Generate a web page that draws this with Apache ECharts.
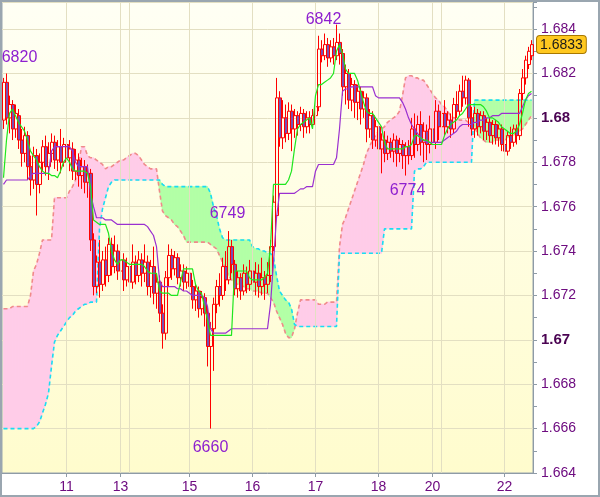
<!DOCTYPE html>
<html>
<head>
<meta charset="utf-8">
<script src="https://cdn.jsdelivr.net/npm/echarts@6/dist/echarts.min.js"></script>
<style>
html,body{margin:0;padding:0;background:#ffffff;}
#chart{width:600px;height:497px;}
</style>
</head>
<body>
<div id="chart"></div>
<script>
// ---- DATA (prices in pips: 6820 means 1.6820) ----
const opens = [6799,6816,6800,6806,6795,6801,6790,6784,6792,6778,
6772,6783,6770,6780,6787,6778,6784,6789,6781,6787,
6780,6788,6782,6786,6776,6781,6774,6778,6771,6775,
6745,6724,6735,6725,6736,6729,6743,6733,6740,6731,
6736,6727,6733,6726,6735,6729,6736,6730,6735,6724,
6733,6721,6726,6712,6703,6728,6738,6732,6737,6728,
6731,6726,6730,6724,6718,6722,6714,6719,6712,6697,
6705,6716,6724,6720,6733,6727,6742,6734,6723,6728,
6722,6730,6725,6731,6726,6730,6724,6728,6725,6729,
6742,6756,6809,6791,6800,6793,6803,6795,6801,6797,
6802,6796,6800,6797,6801,6805,6831,6828,6833,6827,
6832,6828,6834,6829,6814,6820,6808,6815,6807,6812,
6804,6809,6795,6801,6790,6796,6786,6790,6784,6789,
6785,6790,6784,6788,6783,6787,6783,6795,6788,6797,
6789,6794,6788,6795,6789,6803,6796,6802,6796,6799,
6795,6806,6803,6812,6809,6817,6800,6795,6802,6796,
6801,6794,6798,6792,6797,6791,6795,6788,6785,6792,
6789,6795,6792,6811,6818,6824,6828];
const closes = [6816,6800,6806,6795,6802,6790,6784,6792,6778,6772,
6783,6770,6780,6787,6778,6784,6789,6781,6787,6780,
6788,6782,6786,6776,6781,6774,6778,6771,6775,6745,
6724,6735,6725,6736,6729,6743,6733,6740,6731,6736,
6727,6733,6726,6735,6729,6736,6730,6735,6724,6733,
6721,6726,6712,6703,6728,6738,6732,6737,6728,6731,
6726,6730,6724,6718,6722,6714,6719,6712,6697,6705,
6716,6724,6720,6733,6727,6742,6734,6723,6728,6722,
6730,6725,6731,6726,6730,6724,6728,6725,6729,6742,
6762,6809,6791,6800,6793,6803,6795,6801,6797,6802,
6796,6800,6797,6801,6805,6831,6828,6833,6827,6832,
6828,6834,6829,6814,6820,6808,6815,6807,6812,6804,
6809,6795,6801,6790,6796,6786,6790,6784,6789,6785,
6790,6784,6788,6783,6787,6783,6795,6788,6797,6789,
6794,6788,6795,6789,6803,6796,6802,6796,6799,6795,
6806,6803,6812,6809,6817,6800,6795,6802,6796,6801,
6794,6798,6792,6797,6791,6795,6788,6785,6792,6789,
6795,6792,6811,6818,6826,6830,6833];
const lows = [6795,6797,6793,6790,6791,6786,6778,6780,6772,6765,
6768,6756,6766,6776,6774,6772,6780,6777,6776,6775,
6778,6779,6776,6772,6772,6769,6768,6766,6764,6740,
6720,6721,6719,6722,6724,6726,6729,6730,6727,6725,
6722,6724,6720,6723,6725,6726,6724,6726,6720,6719,
6716,6714,6708,6696,6700,6724,6727,6729,6725,6724,
6722,6723,6720,6714,6713,6710,6711,6706,6688,6660,
6686,6712,6715,6718,6722,6725,6730,6720,6719,6718,
6720,6721,6722,6722,6720,6719,6720,6718,6721,6726,
6740,6754,6787,6786,6789,6790,6785,6791,6792,6794,
6791,6793,6793,6795,6798,6803,6825,6826,6823,6825,
6824,6826,6824,6810,6806,6804,6803,6800,6799,6797,
6800,6789,6791,6786,6787,6781,6775,6780,6781,6782,
6780,6778,6780,6777,6774,6779,6781,6782,6785,6783,
6780,6781,6784,6781,6786,6790,6792,6792,6793,6791,
6793,6800,6801,6805,6806,6796,6792,6791,6792,6793,
6790,6790,6789,6788,6788,6787,6785,6781,6783,6786,
6787,6788,6790,6808,6815,6822,6826];
const highs = [6818,6820,6810,6808,6806,6804,6795,6796,6794,6783,
6787,6786,6784,6790,6792,6789,6793,6792,6790,6795,
6791,6793,6790,6789,6786,6784,6782,6781,6779,6777,
6748,6738,6745,6740,6742,6746,6746,6747,6743,6740,
6739,6737,6741,6743,6738,6740,6739,6743,6738,6736,
6742,6730,6729,6716,6731,6743,6741,6740,6739,6734,
6734,6733,6732,6727,6725,6724,6722,6721,6715,6708,
6719,6727,6730,6737,6740,6749,6745,6736,6731,6730,
6734,6733,6736,6734,6735,6734,6737,6731,6735,6745,
6765,6818,6812,6808,6806,6807,6806,6804,6803,6805,
6804,6803,6803,6804,6807,6837,6835,6838,6836,6835,
6836,6842,6838,6831,6824,6822,6818,6817,6815,6814,
6812,6811,6804,6803,6799,6798,6793,6794,6792,6791,
6793,6792,6791,6790,6789,6790,6800,6802,6801,6803,
6798,6797,6801,6800,6808,6806,6805,6808,6803,6802,
6809,6812,6815,6819,6819,6818,6805,6805,6804,6803,
6803,6800,6800,6799,6799,6797,6797,6791,6794,6796,
6797,6797,6813,6822,6828,6832,6835];
const tenkan = [6773,6790,6802,6804,6801,6798,6796,6794,6790,6785,
6783,6781,6778,6776,6775,6775,6774,6774,6773,6776,
6780,6782,6780,6777,6776,6776,6776,6776,6775,6769,
6754,6753,6752,6752,6752,6748,6740,6736,6734,6736,
6736,6735,6734,6734,6734,6734,6734,6733,6731,6730,
6730,6730,6722,6721,6721,6721,6720,6720,6720,6726,
6732,6732,6732,6732,6725,6722,6721,6715,6709,6702,
6702,6702,6702,6702,6702,6702,6702,6731,6731,6731,
6731,6731,6728,6727,6727,6727,6727,6728,6730,6742,
6770,6770,6770,6770,6770,6772,6776,6786,6795,6797,
6798,6799,6800,6795,6810,6815,6815,6816,6817,6818,
6820,6830,6833,6829,6822,6820,6820,6820,6817,6812,
6807,6803,6802,6802,6800,6798,6796,6789,6786,6786,
6786,6786,6786,6786,6787,6787,6788,6792,6792,6791,
6790,6790,6789,6788,6788,6788,6788,6792,6795,6797,
6798,6799,6801,6802,6804,6806,6806,6806,6806,6806,
6805,6803,6800,6800,6799,6798,6796,6795,6794,6793,
6793,6794,6797,6802,6808,6811,6812];
const kijun = [6770,6772,6772,6772,6772,6772,6772,6772,6772,6774,
6775,6775,6775,6775,6775,6775,6785,6787,6787,6787,
6787,6787,6787,6785,6780,6778,6778,6778,6778,6766,
6760,6755,6755,6755,6754,6754,6754,6753,6752,6752,
6752,6752,6752,6752,6752,6752,6752,6752,6751,6749,
6747,6742,6727,6724,6724,6724,6724,6724,6723,6723,
6722,6722,6721,6720,6720,6720,6720,6719,6715,6705,
6703,6703,6703,6703,6703,6704,6705,6705,6705,6705,
6705,6705,6705,6705,6705,6705,6705,6705,6705,6716,
6735,6755,6766,6766,6766,6766,6766,6766,6767,6768,
6768,6769,6769,6769,6776,6779,6779,6779,6779,6779,
6779,6782,6795,6812,6813,6813,6814,6814,6814,6814,
6814,6814,6814,6814,6810,6809,6809,6809,6809,6809,
6809,6809,6809,6807,6804,6800,6797,6795,6793,6791,
6790,6789,6789,6789,6789,6789,6789,6790,6791,6792,
6793,6794,6796,6797,6797,6797,6797,6798,6798,6799,
6799,6800,6800,6801,6801,6801,6802,6802,6802,6802,
6802,6802,6802,6805,6808,6810,6811];
const spanA = [6714,6714,6714,6715,6715,6715,6715,6715,6715,6720,
6731,6734,6739,6745,6745,6745,6745,6764,6764,6764,
6764,6764,6767,6769,6772,6779,6787,6787,6783,6782,
6782,6781,6780,6779,6777,6778,6778,6779,6780,6781,
6781,6782,6783,6784,6784,6783,6781,6779,6778,6777,
6777,6777,6767,6758,6756,6755,6754,6752,6751,6749,
6747,6744,6744,6744,6744,6744,6744,6744,6744,6743,
6742,6741,6738,6735,6732,6729,6727,6726,6725,6725,
6724,6723,6723,6722,6722,6722,6721,6721,6721,6719,
6717,6713,6710,6707,6703,6701,6701,6705,6712,6718,
6718,6718,6718,6718,6718,6716,6716,6716,6717,6717,
6717,6717,6742,6752,6755,6759,6763,6767,6771,6775,
6779,6784,6787,6790,6792,6794,6795,6796,6798,6799,
6800,6801,6803,6810,6818,6819,6819,6818,6818,6817,
6817,6815,6813,6811,6809,6808,6806,6805,6803,6801,
6800,6800,6799,6799,6799,6798,6798,6796,6793,6791,
6790,6789,6789,6789,6790,6790,6790,6790,6791,6792,
6792,6793,6794,6795,6797,6799,6801];
const spanB = [6660,6660,6660,6660,6660,6660,6660,6660,6660,6660,
6660,6661,6663,6667,6671,6676,6688,6699,6702,6704,
6706,6708,6710,6711,6713,6714,6715,6716,6716,6717,
6717,6717,6750,6759,6764,6769,6771,6772,6772,6772,
6772,6772,6772,6772,6772,6772,6772,6772,6772,6772,
6772,6772,6772,6770,6769,6769,6769,6769,6769,6769,
6769,6769,6769,6769,6769,6769,6769,6769,6769,6766,
6760,6756,6750,6746,6745,6745,6745,6745,6745,6745,
6745,6745,6745,6742,6741,6741,6740,6740,6739,6739,
6737,6729,6722,6720,6718,6717,6714,6707,6706,6706,
6706,6706,6706,6706,6706,6706,6706,6706,6706,6706,
6706,6706,6739,6739,6739,6739,6739,6739,6739,6739,
6739,6739,6739,6739,6739,6739,6739,6750,6750,6750,
6750,6750,6750,6750,6750,6750,6750,6776,6777,6777,
6778,6780,6780,6780,6780,6780,6780,6780,6780,6780,
6780,6780,6780,6780,6780,6780,6780,6808,6808,6808,
6808,6808,6808,6808,6808,6808,6808,6808,6808,6808,
6808,6808,6808,6808,6808,6808,6808];
const tickIndex = [21, 39, 62, 83, 104, 125, 143, 167];
const tickText = ['11', '13', '15', '16', '17', '18', '20', '22'];
const separatorIndex = [42, 146];
const extremeIndex = [1, 111, 75, 134, 69];
const extremeKind = ['high', 'high', 'high', 'low', 'low'];

// ---- BUILD ----
const toPrice = v => +(1 + v / 10000).toFixed(4);
const N = opens.length;
const cats = opens.map((_, i) => String(i));
const candles = opens.map((o, i) => [toPrice(o), toPrice(closes[i]), toPrice(lows[i]), toPrice(highs[i])]);
const A = spanA.map(toPrice), B = spanB.map(toPrice);
const cloudData = [];
for (let i = 0; i < N - 1; i++) cloudData.push([i, A[i], B[i], A[i + 1], B[i + 1]]);
const lastClose = toPrice(closes[N - 1]);

const PINK = '#FFCCE8', GREEN = '#B2FFA6';
const FONT = 'Arial, "Liberation Sans", sans-serif';
const AXIS_COLOR = '#8E9BA6';
const LABEL_COLOR = '#6E0C80';
const GRID_COLOR = '#E3DFC2';
const MARK_COLOR = '#8E1FCF';

const offsets = [[13, -16], [-13, -5], [-1, -17], [2, 15], [0, 19]];
const markData = extremeIndex.map((idx, k) => {
  const v = extremeKind[k] === 'high' ? highs[idx] : lows[idx];
  return {
    name: String(v),
    coord: [cats[idx], toPrice(v)],
    label: { offset: offsets[k] }
  };
});

const chart = echarts.init(document.getElementById('chart'), null, { renderer: 'canvas' });
chart.setOption({
  animation: false,
  backgroundColor: '#ffffff',
  graphic: [{
    type: 'rect', z: 100, silent: true,
    shape: { x: 1, y: 1, width: 598, height: 495 },
    style: { fill: 'none', stroke: '#9AA6B0', lineWidth: 2 }
  }],
  grid: {
    left: 2, right: 67, top: 2, bottom: 24,
    show: true,
    backgroundColor: new echarts.graphic.LinearGradient(0, 0, 0, 1, [
      { offset: 0, color: '#FFFFF4' }, { offset: 1, color: '#FFFCCD' }
    ]),
    borderColor: '#9AA6B0', borderWidth: 1
  },
  xAxis: {
    type: 'category', data: cats, boundaryGap: true,
    axisLine: { lineStyle: { color: AXIS_COLOR, width: 1 } },
    axisTick: {
      show: true, alignWithLabel: true, length: 4,
      interval: (i) => tickIndex.includes(i),
      lineStyle: { color: AXIS_COLOR }
    },
    axisLabel: {
      interval: (i) => tickIndex.includes(i),
      formatter: (v, i) => tickText[tickIndex.indexOf(Number(v))] || '',
      color: LABEL_COLOR, fontFamily: FONT, fontSize: 14, margin: 7
    },
    splitLine: { show: false }
  },
  yAxis: {
    type: 'value', position: 'right',
    min: 1.664, max: 1.68522, interval: 0.002,
    axisLine: { show: true, lineStyle: { color: AXIS_COLOR, width: 1 } },
    axisTick: { show: true, length: 4, lineStyle: { color: AXIS_COLOR } },
    minorTick: { show: true, splitNumber: 2, length: 4, lineStyle: { color: AXIS_COLOR } },
    splitLine: { show: true, lineStyle: { color: GRID_COLOR, width: 1 } },
    axisLabel: {
      margin: 8, color: LABEL_COLOR, fontFamily: FONT, fontSize: 14,
      formatter: (v) => {
        const k = Math.round(v * 1000);
        if (Math.abs(v * 500 - Math.round(v * 500)) > 1e-6) return '';
        const s = (k / 1000).toFixed(3).replace(/0+$/, '');
        return k % 10 === 0 ? '{b|' + s + '}' : s;
      },
      rich: { b: { fontWeight: 'bold', color: '#4A0352', fontFamily: FONT, fontSize: 15 } }
    },
    axisPointer: {
      show: true, status: 'show', value: lastClose, triggerTooltip: false,
      lineStyle: { opacity: 0 },
      label: {
        show: true, margin: 4,
        formatter: (p) => Number(p.value).toFixed(4),
        backgroundColor: '#FFC820', borderColor: '#A87800', borderWidth: 1,
        color: '#1A1A1A', fontFamily: FONT, fontSize: 14, padding: [2, 3, 1, 3]
      }
    }
  },
  series: [
    {
      name: 'gridlines', type: 'line', data: [], z: 1, silent: true,
      markLine: {
        silent: true, symbol: 'none', label: { show: false },
        lineStyle: { color: GRID_COLOR, type: 'solid', width: 1 },
        data: tickIndex.concat(separatorIndex).map(i => ({ xAxis: cats[i] }))
      }
    },
    {
      name: 'cloud', type: 'custom', data: cloudData, z: 2, silent: true,
      encode: { x: 0, y: 1 },
      renderItem: function (params, api) {
        const i = api.value(0);
        const a0 = api.value(1), b0 = api.value(2), a1 = api.value(3), b1 = api.value(4);
        const pa0 = api.coord([i, a0]), pb0 = api.coord([i, b0]);
        const pa1 = api.coord([i + 1, a1]), pb1 = api.coord([i + 1, b1]);
        const d0 = a0 - b0, d1 = a1 - b1;
        const col = d => (d >= 0 ? PINK : GREEN);
        const polys = [];
        if (d0 * d1 >= 0) {
          polys.push({ pts: [pa0, pa1, pb1, pb0], c: col(d0 !== 0 ? d0 : d1) });
        } else {
          const t = d0 / (d0 - d1);
          const pm = [pa0[0] + (pa1[0] - pa0[0]) * t, pa0[1] + (pa1[1] - pa0[1]) * t];
          polys.push({ pts: [pa0, pm, pb0], c: col(d0) });
          polys.push({ pts: [pm, pa1, pb1], c: col(d1) });
        }
        return {
          type: 'group',
          children: polys.map(p => ({
            type: 'polygon', shape: { points: p.pts },
            style: { fill: p.c, stroke: p.c, lineWidth: 0.8 }
          }))
        };
      }
    },
    {
      name: 'Senkou A', type: 'line', data: A, z: 3, symbol: 'none', silent: true,
      lineStyle: { color: '#F08A8A', width: 1.6, type: [4, 3] }
    },
    {
      name: 'Senkou B', type: 'line', data: B, z: 3, symbol: 'none', silent: true,
      lineStyle: { color: '#19DDF2', width: 1.6, type: [4, 3] }
    },
    {
      name: 'price', type: 'candlestick', data: candles, z: 4, barWidth: 3.5,
      itemStyle: {
        color: 'rgba(255,255,255,0)', color0: '#7A4FB2',
        borderColor: '#FF0000', borderColor0: '#FF0000', borderWidth: 1
      },
      markPoint: {
        symbol: 'circle', symbolSize: 1, silent: true,
        itemStyle: { color: 'rgba(0,0,0,0)' },
        label: {
          show: true, position: 'inside', formatter: (p) => p.name,
          color: MARK_COLOR, fontFamily: FONT, fontSize: 16
        },
        data: markData
      }
    },
    {
      name: 'Kijun', type: 'line', data: kijun.map(toPrice), z: 5, symbol: 'none', silent: true,
      lineStyle: { color: '#9A30D0', width: 1.2 }
    },
    {
      name: 'Tenkan', type: 'line', data: tenkan.map(toPrice), z: 6, symbol: 'none', silent: true,
      lineStyle: { color: '#1FE61F', width: 1.2 }
    }
  ]
});
</script>
</body>
</html>
